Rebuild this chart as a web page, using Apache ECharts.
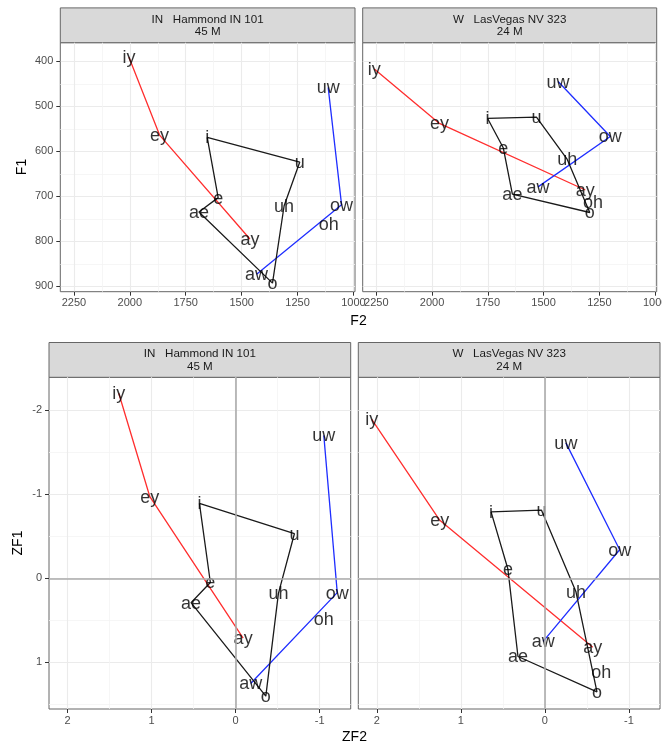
<!DOCTYPE html>
<html><head><meta charset="utf-8">
<script src="https://cdn.jsdelivr.net/npm/echarts@6/dist/echarts.min.js"></script>
<style>html,body{margin:0;padding:0;background:#fff}#c{width:662px;height:745px}</style>
</head><body><div id="c"></div>
<script>
const vowels = ['iy','ey','ay','i','e','ae','o','uh','u','uw','ow','aw','oh'];
const hamF2 = [2004,1867,1463,1654,1605,1691,1362,1310,1240,1113,1053,1433,1110];
const hamF1 = [391,564,795,569,703,735,893,721,624,458,719,873,762];
const lvF2 = [2259,1967,1313,1751,1681,1640,1293,1394,1532,1435,1201,1525,1279];
const lvF1 = [417,538,686,527,592,695,736,618,524,445,567,679,713];
const hamZF2 = [1.39,1.02,-0.09,0.43,0.30,0.53,-0.36,-0.51,-0.70,-1.05,-1.21,-0.18,-1.05];
const hamZF1 = [-2.20,-0.97,0.71,-0.89,0.05,0.29,1.40,0.18,-0.53,-1.70,0.17,1.25,0.48];
const lvZF2 = [2.06,1.25,-0.57,0.64,0.44,0.32,-0.62,-0.37,0.04,-0.25,-0.89,0.02,-0.67];
const lvZF1 = [-1.89,-0.69,0.82,-0.79,-0.11,0.93,1.35,0.16,-0.81,-1.61,-0.34,0.75,1.11];

const redPath = ['iy','ey','ay'];
const bluePath = ['uw','ow','aw'];
const blackPath = ['i','e','ae','o','uh','u','i'];

const xTicksF = [2250,2000,1750,1500,1250,1000];
const yTicksF = [400,500,600,700,800,900];
const xTicksZ = [2,1,0,-1];
const yTicksZ = [-2,-1,0,1];

const stripHam = ['IN   Hammond IN 101', '45 M'];
const stripLV = ['W   LasVegas NV 323', '24 M'];

const FONT = 'Liberation Sans, Arial, Helvetica, sans-serif';

const panels = [
  {x: hamF2, y: hamF1, g: {left: 60.3, top: 42.7, width: 294.7, height: 249}, xr: [993, 2311], yr: [358.7, 912], xt: xTicksF, yt: yTicksF, xi: 250, yi: 100, showY: true, zero: false, strip: stripHam},
  {x: lvF2, y: lvF1, g: {left: 362.7, top: 42.7, width: 294, height: 249}, xr: [993, 2311], yr: [358.7, 912], xt: xTicksF, yt: yTicksF, xi: 250, yi: 100, showY: false, zero: false, strip: stripLV},
  {x: hamZF2, y: hamZF1, g: {left: 49, top: 377.3, width: 301.7, height: 331.7}, xr: [-1.37, 2.22], yr: [-2.39, 1.554], xt: xTicksZ, yt: yTicksZ, xi: 1, yi: 1, showY: true, zero: true, strip: stripHam},
  {x: lvZF2, y: lvZF1, g: {left: 358.3, top: 377.3, width: 301.7, height: 331.7}, xr: [-1.37, 2.22], yr: [-2.39, 1.554], xt: xTicksZ, yt: yTicksZ, xi: 1, yi: 1, showY: false, zero: true, strip: stripLV}
];

const grids = [], xAxes = [], yAxes = [], series = [], graphics = [];

function axisCfg(i, range, ticks, iv, show) {
  return {
    type: 'value', gridIndex: i, inverse: true, min: range[0], max: range[1],
    minInterval: iv, maxInterval: iv, scale: true,
    axisLine: {show: false, onZero: false},
    axisTick: {show: show, length: 4, lineStyle: {color: '#333', width: 1}, customValues: ticks},
    axisLabel: {show: show, customValues: ticks, margin: 6, color: '#4d4d4d', fontSize: 11, fontFamily: FONT,
      formatter: v => String(v)},
    splitLine: {show: true, lineStyle: {color: '#ebebeb', width: 1.1}},
    minorTick: {show: false, splitNumber: 2},
    minorSplitLine: {show: true, lineStyle: {color: '#f4f4f4', width: 0.8}}
  };
}

function pathData(p, names) {
  return names.map(n => {
    const k = vowels.indexOf(n);
    return [p.x[k], p.y[k]];
  });
}

panels.forEach((p, i) => {
  grids.push(Object.assign({show: true, borderColor: '#666', borderWidth: 1, backgroundColor: '#fff',
    containLabel: false, outerBoundsMode: 'none'}, p.g));
  xAxes.push(axisCfg(i, p.xr, p.xt, p.xi, true));
  const ya = axisCfg(i, p.yr, p.yt, p.yi, p.showY);
  ya.axisLabel.margin = 7;
  yAxes.push(ya);

  if (p.zero) {
    series.push({
      type: 'line', xAxisIndex: i, yAxisIndex: i, data: [], silent: true, z: 1,
      markLine: {silent: true, symbol: 'none', animation: false, label: {show: false},
        lineStyle: {color: '#ababab', width: 1.6, type: 'solid'},
        data: [{xAxis: 0}, {yAxis: 0}]}
    });
  }
  const lineDefs = [[redPath, '#ff2e2e'], [bluePath, '#1f2eff'], [blackPath, '#1a1a1a']];
  lineDefs.forEach(([names, col]) => {
    series.push({
      type: 'line', xAxisIndex: i, yAxisIndex: i, data: pathData(p, names),
      symbol: 'none', silent: true, z: 2, animation: false,
      lineStyle: {color: col, width: 1.3}
    });
  });
  series.push({
    type: 'scatter', xAxisIndex: i, yAxisIndex: i, symbolSize: 0, silent: true, z: 3, animation: false,
    data: vowels.map((v, k) => ({name: v, value: [p.x[k], p.y[k]]})),
    label: {show: true, position: 'inside', formatter: '{b}', color: '#000', fontSize: 18, fontFamily: FONT, offset: [0, 1]}
  });

  // strip
  const sTop = p.g.top - 34.8;
  graphics.push({
    type: 'rect', silent: true,
    shape: {x: p.g.left, y: sTop, width: p.g.width, height: 34.8},
    style: {fill: '#d9d9d9', stroke: '#666', lineWidth: 1}
  });
  graphics.push({
    type: 'text', silent: true,
    x: p.g.left + p.g.width / 2, y: sTop + 18,
    style: {text: p.strip.join('\n'), fill: '#1a1a1a', font: '11.6px ' + FONT, textAlign: 'center', textVerticalAlign: 'middle', lineHeight: 12.5}
  });
});

// axis titles
function title(txt, x, y, rot) {
  graphics.push({type: 'text', silent: true, x: x, y: y, rotation: rot || 0,
    style: {text: txt, fill: '#000', font: '14px ' + FONT, textAlign: 'center', textVerticalAlign: 'middle'}});
}
title('F2', 358.5, 321);
title('F1', 22.5, 167, Math.PI / 2);
title('ZF2', 354.5, 737);
title('ZF1', 18.5, 543, Math.PI / 2);

const chart = echarts.init(document.getElementById('c'), null, {renderer: 'canvas'});
chart.setOption({
  animation: false,
  backgroundColor: '#fff',
  grid: grids, xAxis: xAxes, yAxis: yAxes, series: series, graphic: graphics
});
</script>
</body></html>
